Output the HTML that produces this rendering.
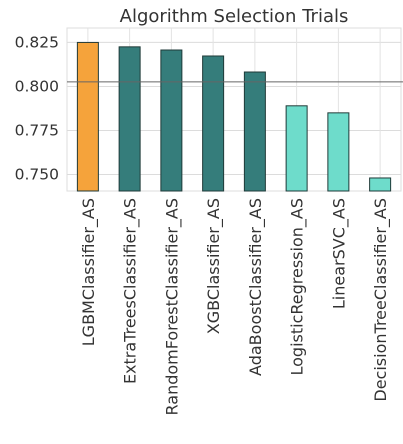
<!DOCTYPE html>
<html><head><meta charset="utf-8"><style>
body{margin:0;background:#fff;width:403px;height:439px;overflow:hidden}
svg{font-family:"DejaVu Sans","Liberation Sans",sans-serif}
</style></head><body>
<svg id="chart" width="403" height="439"></svg>
<script>
const categories=["LGBMClassifier_AS","ExtraTreesClassifier_AS","RandomForestClassifier_AS","XGBClassifier_AS","AdaBoostClassifier_AS","LogisticRegression_AS","LinearSVC_AS","DecisionTreeClassifier_AS"];
const scores=[0.825,0.8225,0.8207,0.8173,0.8082,0.789,0.785,0.748];
const groups=["best","top","top","top","top","rest","rest","rest"];
const yTicks=[0.750,0.775,0.800,0.825];
const yTickLabels=["0.750","0.775","0.800","0.825"];
const threshold=[0.8026];
const NS="http://www.w3.org/2000/svg";
const svg=document.getElementById('chart');
const L=67,R=401,T=28,B=191;
const yMin=0.7406,yMax=0.8332;
const y=v=>B-(v-yMin)/(yMax-yMin)*(B-T);
const band=(R-L)/categories.length;
const x=i=>L+band*(i+0.5);
const colors={best:"#f5a33b",top:"#357d7b",rest:"#6edccb"};
function mk(t,a){const e=document.createElementNS(NS,t);for(const k in a)e.setAttribute(k,a[k]);svg.appendChild(e);return e;}
const title=mk('text',{x:234,y:22,'text-anchor':'middle','font-size':18,fill:'#333'});
title.textContent="Algorithm Selection Trials";


const bg=mk('rect',{x:L,y:T,width:R-L,height:B-T,fill:'#fff',stroke:'#ddd'});


yTicks.forEach((v,i)=>{
  const g=mk('line',{x1:L,x2:R,y1:y(v),y2:y(v),stroke:'#dcdcdc'});
  
  
  const t=mk('text',{x:L-8,y:y(v)+5,'text-anchor':'end','font-size':15.5,fill:'#333'});
  t.textContent=yTickLabels[i];
  
  
});
categories.forEach((c,i)=>{
  const g=mk('line',{x1:x(i),x2:x(i),y1:T,y2:B,stroke:'#e2e2e2'});
  
  
});
categories.forEach((c,i)=>{
  const r=mk('rect',{x:x(i)-10.5,y:y(scores[i]),width:21,height:B-y(scores[i]),fill:colors[groups[i]],stroke:'#1f3a38','stroke-width':1});
  
  
  const t=mk('text',{transform:`translate(${x(i)+6},198) rotate(-90)`,'text-anchor':'end','font-size':16,fill:'#333'});
  t.textContent=c;
  
  
});
const h=mk('line',{x1:L,x2:R+2,y1:y(threshold[0]),y2:y(threshold[0]),stroke:'#666','stroke-width':1});


</script>
</body></html>
